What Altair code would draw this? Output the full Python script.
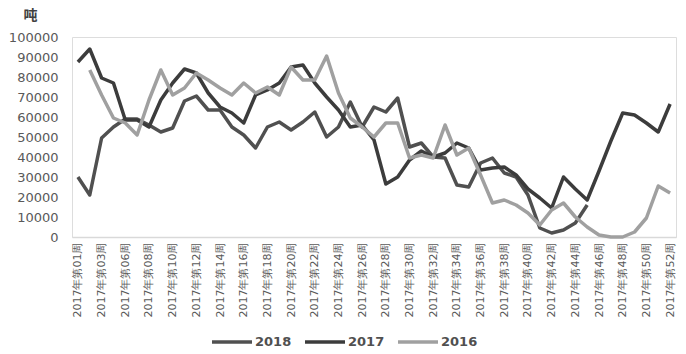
import altair as alt
import pandas as pd

weeks = ["01", "02", "03", "05", "06", "07", "08", "09", "10", "11", "12", "13", "14",
         "15", "16", "17", "18", "19", "20", "21", "22", "23", "24", "25", "26", "27",
         "28", "29", "30", "31", "32", "33", "34", "35", "36", "37", "38", "39", "40",
         "41", "42", "43", "44", "45", "46", "47", "48", "49", "50", "51", "52"]
categories = ["2017年第" + w + "周" for w in weeks]
shown_labels = categories[::2]

series_names = ["2018", "2017", "2016"]
series_colors = ["#505050", "#3c3c3c", "#a0a0a0"]

v2018 = [30000, 21000, 49500, 55000, 59000, 59000, 56000, 52500, 54500, 68000, 70500,
         63500, 63500, 55000, 51000, 44500, 55000, 57500, 53500, 57500, 62500, 50000,
         55000, 67500, 55000, 65000, 62500, 69500, 45000, 47000, 40000, 39500, 26000,
         25000, 37000, 39500, 32000, 30000, 21000, 4500, 2000, 3500, 7000, 16000,
         None, None, None, None, None, None, None]
v2017 = [87500, 94000, 79500, 77000, 58500, 58500, 55000, 68500, 77000, 84000, 82000,
         72000, 65000, 62000, 57000, 71000, 73500, 77000, 85000, 86000, 77000, 70000,
         63500, 55000, 56000, 48500, 26500, 30000, 38500, 43000, 40000, 42000, 47000,
         44500, 33500, 34500, 35000, 31000, 24000, 19500, 14500, 30000, 24000, 18500,
         33000, 48000, 62000, 61000, 57000, 52500, 66500]
v2016 = [None, 83500, 71000, 59500, 57000, 51000, 68500, 83500, 71000, 74500, 82000,
         78500, 74500, 71000, 77000, 72000, 75000, 71000, 85000, 78500, 78500, 90500,
         72000, 59500, 55000, 50000, 57000, 57000, 39500, 41000, 39500, 56000, 41000,
         44500, 31000, 17000, 18500, 16000, 12000, 6000, 13500, 17000, 10000, 5000,
         1000, 0, 0, 2500, 9500, 25500, 22000]

rows = []
for name, vals in zip(series_names, [v2018, v2017, v2016]):
    for i, (c, v) in enumerate(zip(categories, vals)):
        if v is not None:
            rows.append({"week": c, "value": v, "series": name, "idx": i})
df = pd.DataFrame(rows)

FONT = "DejaVu Sans"

chart = alt.Chart(df).mark_line(strokeWidth=3.5, strokeJoin="round").encode(
    x=alt.X("week:N", sort=categories,
            scale=alt.Scale(type="point", padding=0.5),
            axis=alt.Axis(title=None, values=shown_labels, labelAngle=-90,
                          labelFont=FONT, labelFontSize=11, labelColor="#595959",
                          labelPadding=5, ticks=False, domainColor="#d9d9d9",
                          domainWidth=1.5, labelOverlap=False)),
    y=alt.Y("value:Q", scale=alt.Scale(domain=[0, 100000]),
            axis=alt.Axis(title="吨", titleAngle=0, titleX=-42, titleY=-22,
                          titleAlign="center", titleBaseline="middle",
                          titleFont="Noto Sans CJK SC", titleFontSize=14,
                          titleFontWeight="bold", titleColor="#404040",
                          values=list(range(0, 100001, 10000)), format="d",
                          labelFont=FONT, labelFontSize=13, labelColor="#595959",
                          labelPadding=14, ticks=False, domain=False, grid=False)),
    color=alt.Color("series:N", sort=series_names,
                    scale=alt.Scale(domain=series_names, range=series_colors),
                    legend=alt.Legend(title=None, orient="none", direction="horizontal",
                                      legendX=138, legendY=283,
                                      symbolType="stroke", symbolSize=1600,
                                      symbolStrokeWidth=3.5, labelFont=FONT,
                                      labelFontSize=13, labelFontWeight="bold",
                                      labelColor="#505050", columnPadding=6,
                                      labelOffset=1)),
    order=alt.Order("idx:Q"),
    detail="series:N",
).properties(
    width=604, height=200,
    autosize=alt.AutoSizeParams(type="none"),
    padding={"left": 72, "top": 37, "right": 10, "bottom": 117},
).configure_view(stroke=None).configure(font=FONT).configure_legend(
    offset=0, padding=0
)

chart.save("out.html", embed_options={"renderer": "svg", "actions": False})
